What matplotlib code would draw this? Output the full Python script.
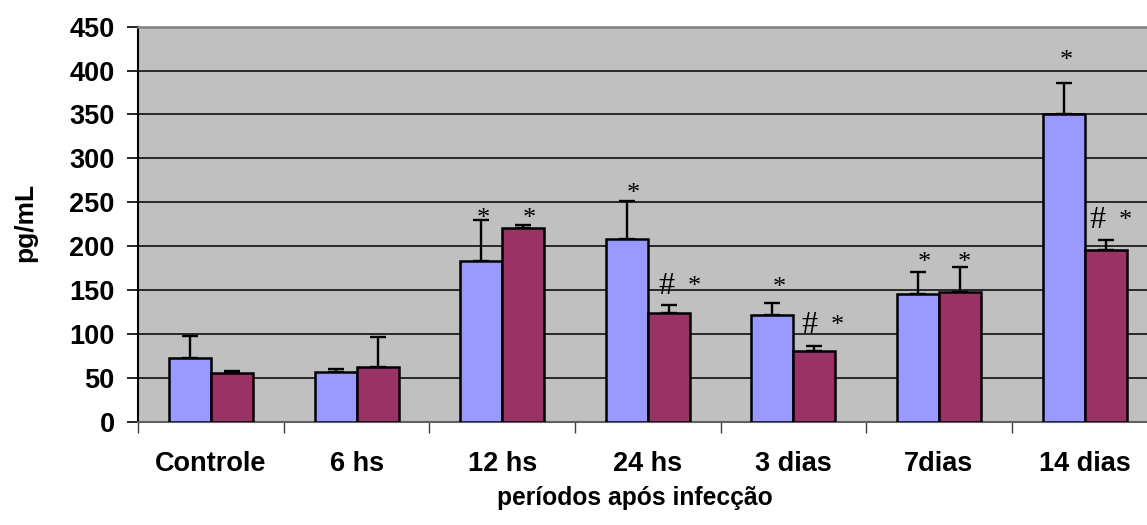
import matplotlib
matplotlib.use("Agg")
import matplotlib.pyplot as plt
import numpy as np

categories = ["Controle", "6 hs", "12 hs", "24 hs", "3 dias", "7dias", "14 dias"]
serie_a = [73, 57, 183, 208, 122, 145, 350]
serie_a_err = [25, 2.5, 47, 43, 13, 26, 36]
serie_b = [55, 62, 221, 124, 80, 148, 196]
serie_b_err = [3, 34, 2.5, 8.5, 6.5, 28.5, 10.5]

# annotations: category index, offset (category units), baseline value, text
ann_cat = [2, 2, 3, 3, 3, 4, 4, 4, 5, 5, 6, 6, 6]
ann_dx = [-0.128, 0.186, -0.098, 0.13, 0.317, -0.099, 0.107, 0.30, -0.103, 0.172, -0.128, 0.085, 0.277]
ann_y = [224, 224, 252, 146, 147, 145, 101, 102, 174, 174, 404, 221, 222]
ann_txt = ["*", "*", "*", "#", "*", "*", "#", "*", "*", "*", "*", "#", "*"]

yticks = [0, 50, 100, 150, 200, 250, 300, 350, 400, 450]

W, H = 1147, 525
fig = plt.figure(figsize=(W / 100, H / 100), dpi=100)
fig.patch.set_facecolor("white")

left = 138.2 / W
right = (138.2 + 7 * 145.6) / W
bottom = (H - 421.7) / H
top = (H - 26.6) / H
ax = fig.add_axes([left, bottom, right - left, top - bottom])
ax.set_facecolor("#C0C0C0")

x = np.arange(len(categories))
bw = 0.288
ax.bar(x - bw / 2, serie_a, width=bw, color="#9999FF", edgecolor="black", linewidth=1.8, zorder=3)
ax.bar(x + bw / 2, serie_b, width=bw, color="#993366", edgecolor="black", linewidth=1.8, zorder=3)
ax.errorbar(x - bw / 2, serie_a, yerr=[np.zeros(len(x)), serie_a_err], fmt="none",
            ecolor="black", elinewidth=1.7, capsize=5.5, capthick=1.7, zorder=2)
ax.errorbar(x + bw / 2, serie_b, yerr=[np.zeros(len(x)), serie_b_err], fmt="none",
            ecolor="black", elinewidth=1.7, capsize=5.5, capthick=1.7, zorder=2)

for c, dx, yv, t in zip(ann_cat, ann_dx, ann_y, ann_txt):
    ax.text(c + dx, yv, t, ha="center", va="baseline", fontsize=23 if t == "#" else 19,
            family="Liberation Serif", color="black", zorder=5)

ax.set_xlim(-0.5, len(categories) - 0.5)
ax.set_ylim(0, 450)
ax.set_yticks(yticks)
ax.yaxis.grid(True, color="black", linewidth=1.1, zorder=1)
ax.set_axisbelow(True)

ax.set_xticks(np.arange(len(categories) + 1) - 0.5)
ax.set_xticklabels([])
ax.set_xticks(x, minor=True)
ax.set_xticklabels(categories, minor=True)
ax.tick_params(axis="x", which="major", direction="out", length=8, width=1.0, color="#404040")
ax.tick_params(axis="x", which="minor", length=0, pad=21)
ax.tick_params(axis="y", direction="out", length=8, width=1.2, pad=9)

for lab in ax.get_xticklabels(minor=True) + ax.get_yticklabels():
    lab.set_fontfamily("Liberation Sans")
    lab.set_fontweight("bold")
    lab.set_fontsize(19.5)

ax.spines["left"].set_color("black")
ax.spines["left"].set_linewidth(1.5)
ax.spines["bottom"].set_color("#606060")
ax.spines["bottom"].set_linewidth(1.5)
ax.spines["top"].set_color("#808080")
ax.spines["top"].set_linewidth(1.8)
ax.spines["right"].set_visible(False)

fig.text(634.5 / W, (H - 498) / H, "períodos após infecção", ha="center", va="center",
         fontsize=17.7, fontweight="bold", family="Liberation Sans")
fig.text(25 / W, (H - 222.5) / H, "pg/mL", ha="center", va="center", rotation=90,
         fontsize=19, fontweight="bold", family="Liberation Sans")

fig.savefig("out.png", dpi=100)
